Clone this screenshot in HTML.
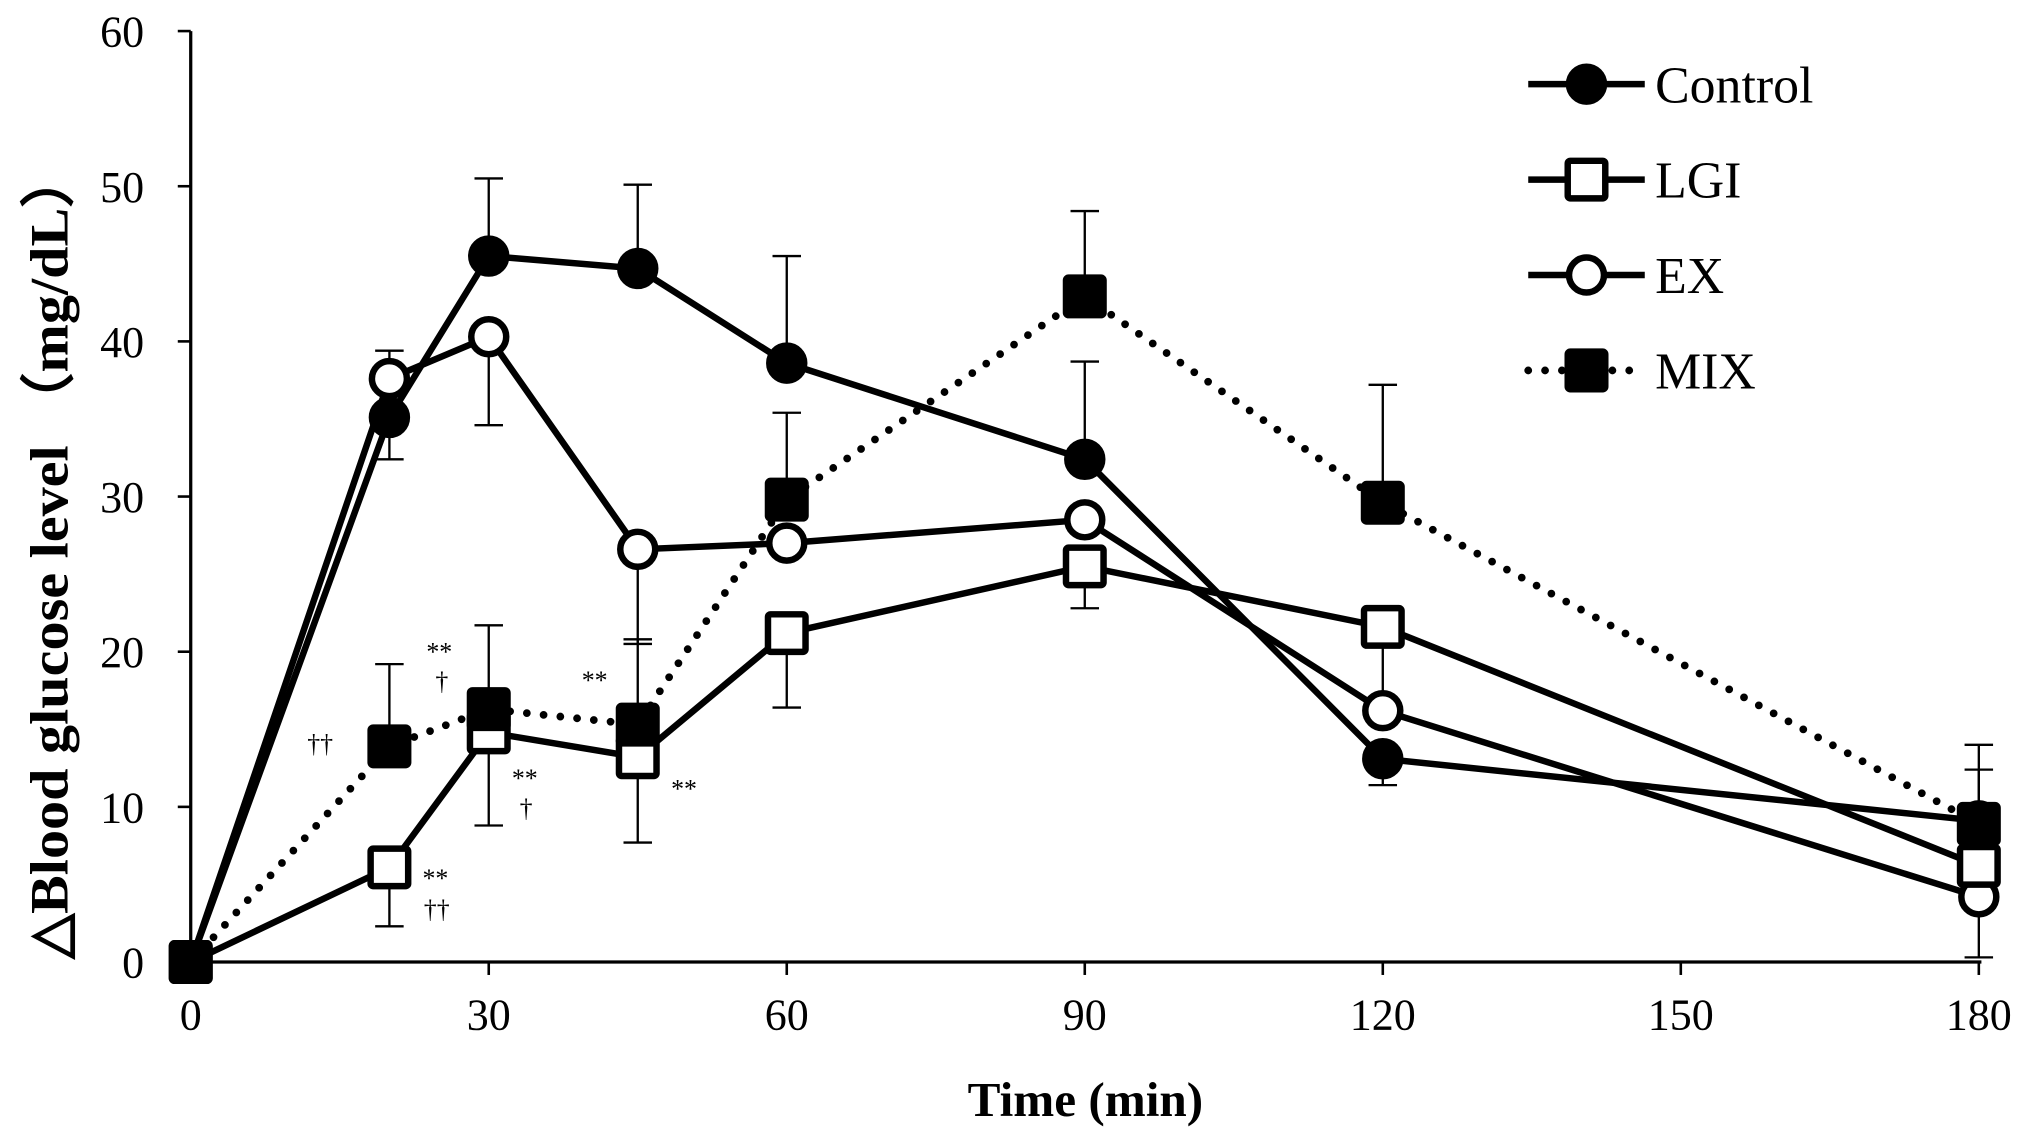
<!DOCTYPE html>
<html><head><meta charset="utf-8"><style>
html,body{margin:0;padding:0;background:#fff;}
svg{display:block;font-family:"Liberation Serif","Times New Roman",serif;}
</style></head><body>
<svg id="chart" width="2031" height="1142" viewBox="0 0 1568 882" xmlns="http://www.w3.org/2000/svg">
<g id="axes"></g>
<g id="errs"></g>
<g id="lines"></g>
<g id="marks"></g>
<g id="notes" font-size="20">
<text x="339" y="510" text-anchor="middle">**</text>
<text x="341" y="533" text-anchor="middle">†</text>
<text x="247" y="581" text-anchor="middle">††</text>
<text x="459" y="532" text-anchor="middle">**</text>
<text x="405" y="608" text-anchor="middle">**</text>
<text x="406" y="631" text-anchor="middle">†</text>
<text x="528" y="616" text-anchor="middle">**</text>
<text x="336" y="685" text-anchor="middle">**</text>
<text x="337" y="709" text-anchor="middle">††</text>
</g>
<g id="legend"></g>
<text x="838" y="862" text-anchor="middle" font-size="38" font-weight="bold">Time (min)</text>
<text transform="translate(52,428) rotate(-90)" text-anchor="middle" font-size="42" font-weight="bold" textLength="625" lengthAdjust="spacingAndGlyphs">△Blood glucose level （mg/dL）</text>
</svg>
<script>
const times=[0,20,30,45,60,90,120,180];
const seriesNames=["Control","LGI","EX","MIX"];
const controlVals=[0,35.1,45.5,44.7,38.6,32.4,13.1,9.1];
const lgiVals=[0,6.1,14.8,13.2,21.2,25.5,21.6,6.2];
const exVals=[0,37.6,40.3,26.6,27.0,28.5,16.2,4.2];
const mixVals=[0,13.9,16.3,15.3,29.8,42.9,29.6,8.9];
// error bar endpoints (value reached by whisker)
const controlErr=[null,32.4,50.5,50.1,45.5,38.7,11.4,null];
const lgiErr=[null,2.3,8.8,7.7,16.4,22.8,16.5,12.4];
const exErr=[null,39.4,34.6,20.5,null,null,null,0.3];
const mixErr=[null,19.2,21.7,20.8,35.4,48.4,37.2,14.0];
const xTicks=[0,30,60,90,120,150,180];
const yTicks=[0,10,20,30,40,50,60];
const NS="http://www.w3.org/2000/svg";
const X=t=>147+(t/180)*(1528-147);
const Y=v=>743-(v/60)*(743-24);
function mk(tag,attrs,parent){const e=document.createElementNS(NS,tag);for(const k in attrs)e.setAttribute(k,attrs[k]);parent.appendChild(e);return e;}
const axes=document.getElementById('axes');
let a=mk('line',{x1:X(0),y1:Y(0),x2:X(180)+2,y2:Y(0),stroke:'#000','stroke-width':2.5},axes);

a=mk('line',{x1:X(0),y1:Y(0),x2:X(0),y2:Y(60),stroke:'#000','stroke-width':2.5},axes);

xTicks.forEach(t=>{
 let l=mk('line',{x1:X(t),y1:Y(0),x2:X(t),y2:Y(0)+10,stroke:'#000','stroke-width':2},axes);
 
 let s=mk('text',{x:X(t),y:Y(0)+52,'text-anchor':'middle','font-size':34},axes);s.textContent=t;
 
});
yTicks.forEach(v=>{
 let l=mk('line',{x1:X(0)-10,y1:Y(v),x2:X(0),y2:Y(v),stroke:'#000','stroke-width':2},axes);
 
 let s=mk('text',{x:X(0)-36,y:Y(v)+12,'text-anchor':'end','font-size':34},axes);s.textContent=v;
 
});
const series=[
 {vals:controlVals,err:controlErr,marker:'circle',fill:'#000',dash:null},
 {vals:lgiVals,err:lgiErr,marker:'square',fill:'#fff',dash:null},
 {vals:exVals,err:exErr,marker:'circle',fill:'#fff',dash:null},
 {vals:mixVals,err:mixErr,marker:'square',fill:'#000',dash:'0 13'}];
const errs=document.getElementById('errs'),lines=document.getElementById('lines'),marks=document.getElementById('marks');
function marker(type,fill,cx,cy,parent){
 if(type==='circle')return mk('circle',{cx:cx,cy:cy,r:13.5,fill:fill,stroke:'#000','stroke-width':5},parent);
 return mk('rect',{x:cx-14.5,y:cy-14.5,width:29,height:29,fill:fill,stroke:'#000','stroke-width':5,rx:2},parent);
}
series.forEach((s,i)=>{
 s.err.forEach((e,j)=>{
  if(e===null)return;
  let l=mk('line',{x1:X(times[j]),y1:Y(s.vals[j]),x2:X(times[j]),y2:Y(e),stroke:'#000','stroke-width':1.8},errs);
  
  let c=mk('line',{x1:X(times[j])-11,y1:Y(e),x2:X(times[j])+11,y2:Y(e),stroke:'#000','stroke-width':1.8},errs);
  
 });
 const pts=s.vals.map((v,j)=>X(times[j])+','+Y(v)).join(' ');
 const at={points:pts,fill:'none',stroke:'#000','stroke-width':s.dash?6:5,'stroke-linejoin':'round'};
 if(s.dash){at['stroke-dasharray']=s.dash;at['stroke-linecap']='round';}
 let pl=mk('polyline',at,lines);
 
});
[0,2,1,3].forEach(i=>{const s=series[i];
 s.vals.forEach((v,j)=>{let m=marker(s.marker,s.fill,X(times[j]),Y(v),marks);
  });
});
const lg=document.getElementById('legend');
series.forEach((s,i)=>{
 const y=65+i*73.7;
 const at={x1:1180,y1:y,x2:1270,y2:y,stroke:'#000','stroke-width':s.dash?6:5};
 if(s.dash){at['stroke-dasharray']=s.dash;at['stroke-linecap']='round';}
 let l=mk('line',at,lg);
 let m=marker(s.marker,s.fill,1225,y,lg);
 let t=mk('text',{x:1278,y:y+14,'font-size':40},lg);t.textContent=seriesNames[i];
 
});
</script>
</body></html>
